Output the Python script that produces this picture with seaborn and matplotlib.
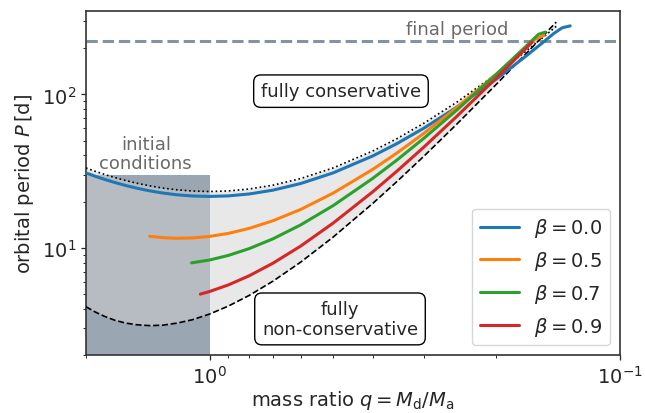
import matplotlib
matplotlib.use("Agg")
import matplotlib.pyplot as plt
import pandas as pd
import seaborn as sns
from matplotlib.lines import Line2D

# ---------------------------------------------------------------------------
# Limiting tracks: fully conservative (beta=0 envelope) and fully
# non-conservative (beta=1, isotropic re-emission) mass transfer
# ---------------------------------------------------------------------------
q_limit = [2.0, 1.9, 1.8, 1.7, 1.6, 1.5, 1.4, 1.3, 1.2, 1.1, 1.0, 0.9, 0.8, 0.7,
           0.6, 0.5, 0.4, 0.35, 0.3, 0.25, 0.2, 0.17, 0.155, 0.145, 0.143]
P_conservative = [33.17, 31.57, 30.08, 28.71, 27.46, 26.34, 25.36, 24.53, 23.89,
                  23.46, 23.30, 23.49, 24.19, 25.62, 28.28, 33.17, 42.82, 51.40,
                  65.10, 88.89, 135.9, 190.1, 232.1, 269.1, 277.6]
P_nonconservative = [4.13, 3.82, 3.57, 3.37, 3.23, 3.15, 3.11, 3.13, 3.23, 3.40,
                     3.70, 4.17, 4.90, 6.07, 8.06, 11.74, 19.51, 26.95, 39.7, 63.9,
                     116.6, 182.5, 236.2, 285.0, 296.3]

# ---------------------------------------------------------------------------
# Evolutionary tracks for different mass-loss fractions beta
# ---------------------------------------------------------------------------
q_b00 = [2.0, 1.9, 1.8, 1.7, 1.6, 1.5, 1.4, 1.3, 1.2, 1.1, 1.0, 0.9, 0.8, 0.7,
         0.6, 0.5, 0.4, 0.35, 0.3, 0.25, 0.2, 0.17, 0.155, 0.145, 0.1383, 0.1322]
P_b00 = [30.80, 29.31, 27.93, 26.65, 25.49, 24.45, 23.54, 22.77, 22.17, 21.78,
         21.63, 21.81, 22.45, 23.78, 26.25, 30.80, 39.75, 47.72, 60.43, 82.52,
         126.1, 176.5, 215.5, 249.8, 272.0, 280.0]

q_b05 = [1.40, 1.3, 1.2, 1.1, 1.0, 0.9, 0.8, 0.7, 0.6, 0.5, 0.4, 0.35, 0.3, 0.25,
         0.2, 0.17, 0.161, 0.153]
P_b05 = [11.90, 11.65, 11.54, 11.60, 11.87, 12.42, 13.40, 15.03, 17.78, 22.72,
         32.51, 41.40, 55.95, 82.13, 135.9, 200.2, 228.6, 243.0]

q_b07 = [1.106, 1.0, 0.9, 0.8, 0.7, 0.6, 0.5, 0.4, 0.35, 0.3, 0.25, 0.2, 0.17,
         0.158, 0.152]
P_b07 = [7.98, 8.33, 8.92, 9.89, 11.46, 14.10, 18.84, 28.41, 37.25, 51.98, 78.90,
         135.5, 204.2, 246.6, 255.0]

q_b09 = [1.053, 1.0, 0.9, 0.8, 0.7, 0.6, 0.5, 0.4, 0.35, 0.3, 0.25, 0.2, 0.17,
         0.1637]
P_b09 = [4.99, 5.19, 5.73, 6.58, 7.95, 10.26, 14.49, 23.23, 31.51, 45.54, 71.79,
         128.2, 198.1, 219.5]

beta_labels = [r"$\beta = 0.0$", r"$\beta = 0.5$", r"$\beta = 0.7$", r"$\beta = 0.9$"]
beta_colors = ["#1f77b4", "#ff7f0e", "#2ca02c", "#d62728"]

# initial-condition box and target period
q_init = [1.0, 2.0]
P_init_top = 30.0
P_final = 223.0

# ---------------------------------------------------------------------------
sns.set_theme(style="ticks")
plt.rcParams.update({
    "font.family": ["DejaVu Sans"],
    "mathtext.fontset": "dejavusans",
    "axes.edgecolor": "0.2",
    "axes.linewidth": 1.2,
    "xtick.major.size": 3.5, "ytick.major.size": 3.5,
    "xtick.minor.size": 2.0, "ytick.minor.size": 2.0,
    "xtick.major.width": 0.9, "ytick.major.width": 0.9,
    "xtick.minor.width": 0.7, "ytick.minor.width": 0.7,
    "xtick.color": "0.15", "ytick.color": "0.15",
})

fig, ax = plt.subplots(figsize=(6.45, 4.14), dpi=100)
fig.subplots_adjust(left=0.1333, right=0.9612, top=0.971, bottom=0.140)

ax.set_xscale("log")
ax.set_yscale("log")
ax.set_xlim(2.0, 0.1)
ax.set_ylim(2.0, 350.0)

# initial conditions
ax.fill_between(q_init, 2.0, P_init_top, color="slategray", alpha=0.7, lw=0, zorder=1)

# allowed region between the two limits
ax.fill_between(q_limit, P_nonconservative, P_conservative, color="lightgrey",
                alpha=0.5, lw=0, zorder=2)
ax.plot(q_limit, P_conservative, color="black", ls=":", lw=1.2, zorder=3)
ax.plot(q_limit, P_nonconservative, color="black", ls="--", lw=1.2, zorder=3)

# final period
ax.axhline(P_final, color="slategray", ls="--", lw=2.2, alpha=0.85, zorder=2)

tracks = pd.concat([
    pd.DataFrame({"q": q, "P": P, "track": lab})
    for q, P, lab in zip([q_b00, q_b05, q_b07, q_b09],
                         [P_b00, P_b05, P_b07, P_b09], beta_labels)
], ignore_index=True)

sns.lineplot(data=tracks, x="q", y="P", hue="track", hue_order=beta_labels,
             palette=dict(zip(beta_labels, beta_colors)), sort=False,
             estimator=None, lw=2.2, legend=False, ax=ax, zorder=4)

handles = [Line2D([], [], color=c, lw=2.2) for c in beta_colors]
leg = ax.legend(handles, beta_labels, loc="lower right", fontsize=14,
                frameon=True, fancybox=True)
leg.get_frame().set_edgecolor("0.8")

# annotations
ax.text(0.4775, 0.767, "fully conservative", transform=ax.transAxes,
        ha="center", va="center", fontsize=13,
        bbox=dict(boxstyle="round,pad=0.4", fc="white", ec="black", lw=1.0),
        zorder=5)
ax.text(0.4757, 0.105, "fully\nnon-conservative", transform=ax.transAxes,
        ha="center", va="center", multialignment="center", fontsize=13,
        linespacing=1.1,
        bbox=dict(boxstyle="round,pad=0.4", fc="white", ec="black", lw=1.0),
        zorder=5)
ax.text(0.112, 0.585, "initial\nconditions", transform=ax.transAxes,
        ha="center", va="center", multialignment="center", fontsize=13,
        color="dimgray", linespacing=1.05)
ax.text(0.695, 0.948, "final period", transform=ax.transAxes,
        ha="center", va="center", fontsize=13, color="dimgray")

ax.set_xlabel(r"mass ratio $q = M_\mathrm{d}/M_\mathrm{a}$", fontsize=14, labelpad=1)
ax.set_ylabel(r"orbital period $P\,$[d]", fontsize=14)
ax.tick_params(axis="both", which="major", labelsize=14)
ax.xaxis.set_minor_formatter(matplotlib.ticker.NullFormatter())
ax.yaxis.set_minor_formatter(matplotlib.ticker.NullFormatter())

fig.savefig("out.png", dpi=100)
